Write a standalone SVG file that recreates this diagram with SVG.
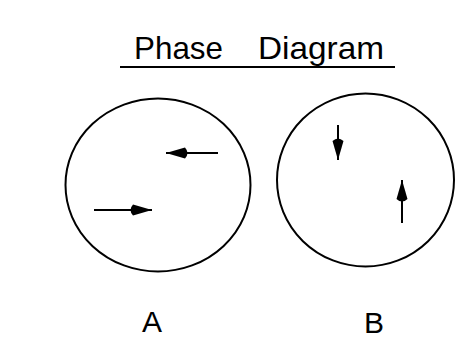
<svg xmlns="http://www.w3.org/2000/svg" width="456" height="358" viewBox="0 0 456 358">
  <defs>
    <style>
      .circ { fill: none; stroke: #000; stroke-width: 2; }
      .vec { fill: none; stroke: #000; stroke-width: 2; marker-end: url(#head); }
      .title { font-family: "Liberation Sans", Arial, sans-serif; font-size: 32px; fill: #000; }
      .label { font-family: "Liberation Sans", Arial, sans-serif; font-size: 30px; fill: #000; text-anchor: middle; }
    </style>
    <marker id="head" markerUnits="userSpaceOnUse" viewBox="-25 -7 26 14" refX="0" refY="0" markerWidth="26" markerHeight="14" orient="auto">
      <path d="M0,0 L-19,-5.5 Q-24,0 -19,5.5 Z" fill="#000"/>
    </marker>
  </defs>
  <rect width="456" height="358" fill="#fff"/>
  <g id="title">
    <text class="title" x="134" y="59" textLength="89" lengthAdjust="spacingAndGlyphs">Phase</text>
    <text class="title" x="258" y="59" textLength="126" lengthAdjust="spacingAndGlyphs">Diagram</text>
    <line x1="120" y1="67" x2="395" y2="67" stroke="#000" stroke-width="2"/>
  </g>
  <g id="phaseA">
    <ellipse class="circ" cx="158" cy="185" rx="92.5" ry="86.5"/>
    <text class="label" x="152" y="332">A</text>
  </g>
  <g id="phaseB">
    <ellipse class="circ" cx="365.5" cy="180" rx="88.5" ry="86.5"/>
    <text class="label" x="374" y="333">B</text>
  </g>
  <g id="connectors">
    <line class="vec" x1="218" y1="153" x2="166" y2="153"/>
    <line class="vec" x1="94" y1="210" x2="152" y2="210"/>
    <line class="vec" x1="338" y1="125" x2="338" y2="160"/>
    <line class="vec" x1="402" y1="223" x2="402" y2="180"/>
  </g>
</svg>
